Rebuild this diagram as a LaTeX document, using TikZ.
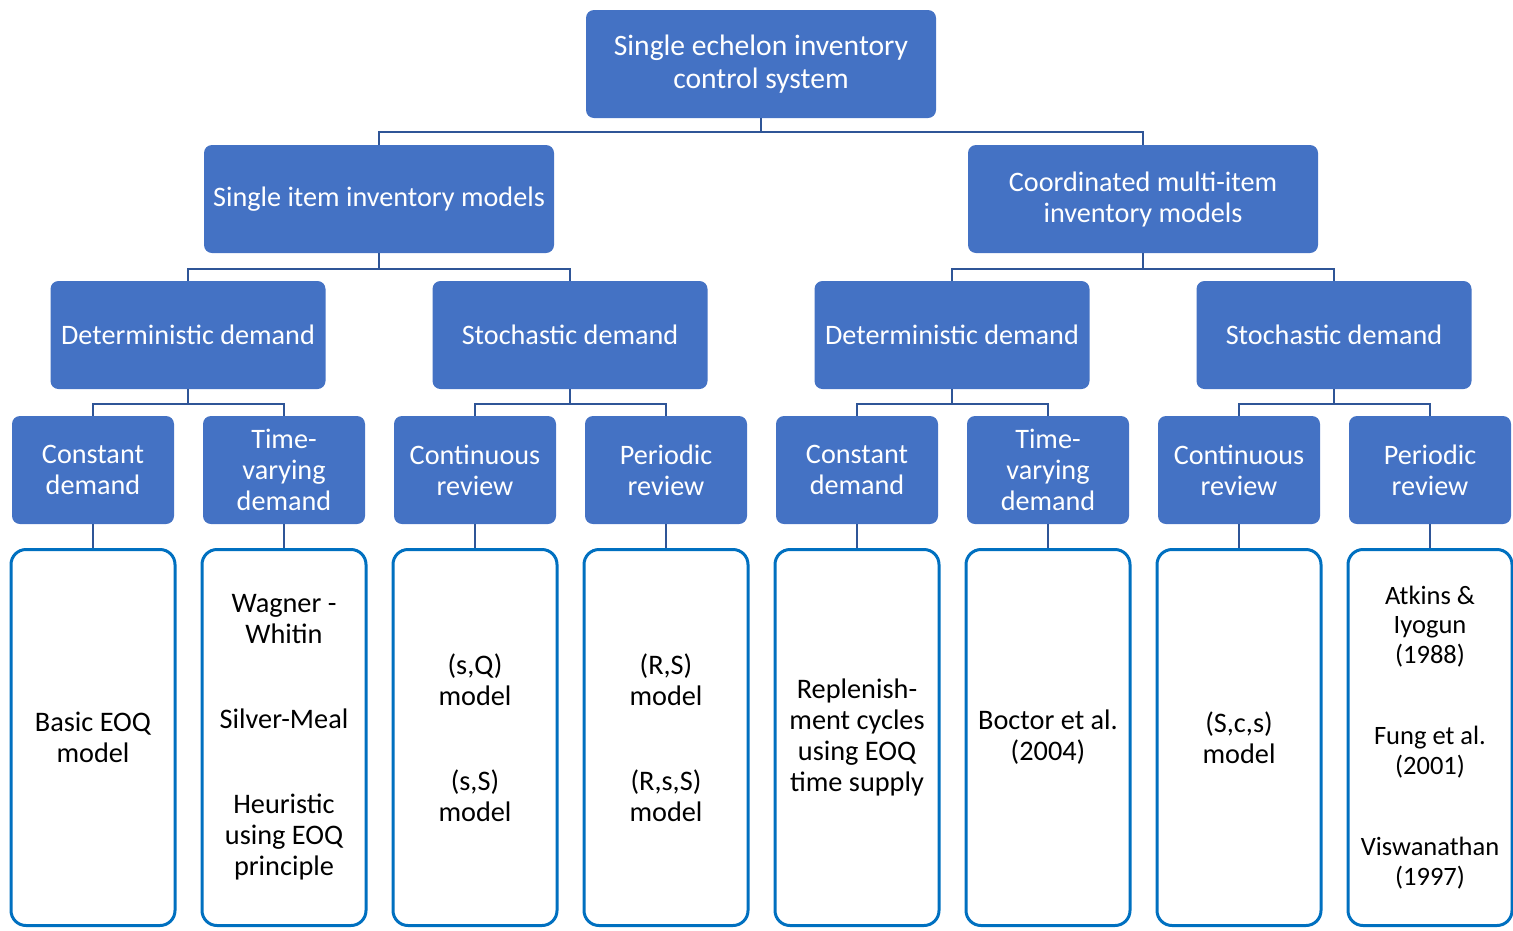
\documentclass[tikz,border=0pt]{standalone}
\usepackage{fontspec}
\setmainfont{Carlito}
\definecolor{boxblue}{HTML}{4472C4}
\definecolor{linkblue}{HTML}{2F5597}
\definecolor{edgeblue}{HTML}{0070C0}
\tikzset{
  filled/.style={rectangle, rounded corners=8pt, fill=boxblue, text=white,
    align=center, inner sep=0pt, font=\fontsize{28.2}{31}\selectfont},
  widebox/.style={filled, minimum width=350pt, minimum height=108pt},
  midbox/.style={filled, minimum width=275pt, minimum height=108pt},
  smallbox/.style={filled, minimum width=162pt, minimum height=108pt},
  leaf/.style={rectangle, rounded corners=15pt, draw=edgeblue, line width=3pt,
    fill=white, text=black, minimum width=164pt, minimum height=376pt,
    align=center, inner sep=0pt, font=\fontsize{28.3}{31}\selectfont},
  link/.style={draw=linkblue, line width=2.5pt},
}
\begin{document}
\begin{tikzpicture}[x=1pt,y=-1pt]
\useasboundingbox (0,0) rectangle (1513,930);

% top level
\node[widebox, font=\fontsize{29.6}{33}\selectfont] (root) at (761,64)
  {Single echelon inventory\\control system};

% second level
\node[widebox] (single) at (379,199) {Single item inventory models};
\node[widebox] (multi) at (1143,199) {Coordinated multi-item\\inventory models};

% third level
\node[midbox] (sdet) at (188,335) {Deterministic demand};
\node[midbox] (ssto) at (570,335) {Stochastic demand};
\node[midbox] (mdet) at (952,335) {Deterministic demand};
\node[midbox] (msto) at (1334,335) {Stochastic demand};

% fourth level
\node[smallbox] (c1) at (93,470) {Constant\\demand};
\node[smallbox] (c2) at (284,470) {Time-\\varying\\demand};
\node[smallbox] (c3) at (475,470) {Continuous\\review};
\node[smallbox] (c4) at (666,470) {Periodic\\review};
\node[smallbox] (c5) at (857,470) {Constant\\demand};
\node[smallbox] (c6) at (1048,470) {Time-\\varying\\demand};
\node[smallbox] (c7) at (1239,470) {Continuous\\review};
\node[smallbox] (c8) at (1430,470) {Periodic\\review};

% model lists
\node[leaf] (m1) at (93,737.5) {Basic EOQ\\model};
\node[leaf] (m2) at (284,737.5) {Wagner -\\Whitin\\[54pt]Silver-Meal\\[54pt]Heuristic\\using EOQ\\principle};
\node[leaf] (m3) at (475,737.5) {(s,Q)\\model\\[54pt](s,S)\\model};
\node[leaf] (m4) at (666,737.5) {(R,S)\\model\\[54pt](R,s,S)\\model};
\node[leaf] (m5) at (857,737.5) {Replenish-\\ment cycles\\using EOQ\\time supply};
\node[leaf] (m6) at (1048,737.5) {Boctor et al.\\(2004)};
\node[leaf] (m7) at (1239,737.5) {(S,c,s)\\model};
\node[leaf, font=\fontsize{26.5}{29.5}\selectfont] (m8) at (1430,737.5)
  {Atkins \&\\Iyogun\\(1988)\\[52pt]Fung et al.\\(2001)\\[52pt]Viswanathan\\(1997)};

% connectors
\foreach \p/\c in {root/single, root/multi}
  \draw[link] (\p.south) -- ++(0,14) -| (\c.north);
\foreach \p/\c in {single/sdet, single/ssto, multi/mdet, multi/msto}
  \draw[link] (\p.south) -- ++(0,16) -| (\c.north);
\foreach \p/\c in {sdet/c1, sdet/c2, ssto/c3, ssto/c4, mdet/c5, mdet/c6, msto/c7, msto/c8}
  \draw[link] (\p.south) -- ++(0,15) -| (\c.north);
\foreach \i in {1,...,8}
  \draw[link] (c\i.south) -- (m\i.north);
\end{tikzpicture}
\end{document}
